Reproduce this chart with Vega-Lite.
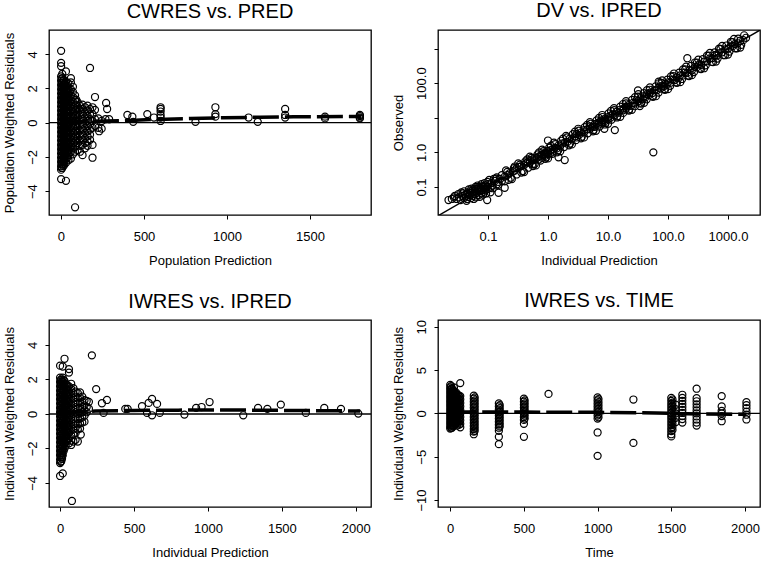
{
"$schema": "https://vega.github.io/schema/vega-lite/v6.json",
"background": "white",
"padding": {"left": 2, "top": 0, "right": 0, "bottom": 0},
"columns": 2,
"spacing": {"row": 22, "column": 18},
"config": {
  "font": "Liberation Sans",
  "view": {"stroke": "black", "strokeWidth": 1.3},
  "axis": {"domain": false, "grid": false, "tickColor": "black", "tickSize": 4, "tickWidth": 1,
    "labelFont": "Liberation Sans", "labelFontSize": 13, "labelColor": "black", "labelFlush": false, "labelOverlap": false,
    "titleFont": "Liberation Sans", "titleFontSize": 13, "titleFontWeight": "normal", "titleColor": "black"},
  "axisX": {"labelPadding": 11, "titlePadding": 11, "format": "d"},
  "axisY": {"labelAngle": -90, "labelAlign": "center", "labelBaseline": "bottom", "labelPadding": 6, "titlePadding": 10},
  "title": {"font": "Liberation Sans", "fontSize": 20, "fontWeight": "normal", "color": "black", "baseline": "alphabetic", "offset": 8.5}
},
"datasets": {
"cw": [
{"PRED":1,"CWRES":4.2},{"PRED":1,"CWRES":3.5},{"PRED":1,"CWRES":3.3},{"PRED":1,"CWRES":2.7},{"PRED":1,"CWRES":2.45},{"PRED":1,"CWRES":2.2},{"PRED":1,"CWRES":1.95},{"PRED":1,"CWRES":1.7},{"PRED":1,"CWRES":1.45},{"PRED":1,"CWRES":1.2},{"PRED":1,"CWRES":0.95},{"PRED":1,"CWRES":0.7},{"PRED":1,"CWRES":0.45},{"PRED":1,"CWRES":0.2},{"PRED":1,"CWRES":-0.05},{"PRED":1,"CWRES":-0.3},{"PRED":1,"CWRES":-0.55},{"PRED":1,"CWRES":-0.8},{"PRED":1,"CWRES":-1.05},{"PRED":1,"CWRES":-1.3},{"PRED":1,"CWRES":-1.55},{"PRED":1,"CWRES":-1.8},{"PRED":1,"CWRES":-2.05},{"PRED":1,"CWRES":-2.3},{"PRED":1,"CWRES":-2.55},{"PRED":1,"CWRES":-2.75},{"PRED":1,"CWRES":-3.3},
{"PRED":4,"CWRES":2.57},{"PRED":4,"CWRES":2.32},{"PRED":4,"CWRES":2.07},{"PRED":4,"CWRES":1.82},{"PRED":4,"CWRES":1.57},{"PRED":4,"CWRES":1.32},{"PRED":4,"CWRES":1.07},{"PRED":4,"CWRES":0.82},{"PRED":4,"CWRES":0.57},{"PRED":4,"CWRES":0.32},{"PRED":4,"CWRES":0.07},{"PRED":4,"CWRES":-0.18},{"PRED":4,"CWRES":-0.43},{"PRED":4,"CWRES":-0.68},{"PRED":4,"CWRES":-0.93},{"PRED":4,"CWRES":-1.18},{"PRED":4,"CWRES":-1.43},{"PRED":4,"CWRES":-1.68},{"PRED":4,"CWRES":-1.93},{"PRED":4,"CWRES":-2.18},{"PRED":4,"CWRES":-2.43},{"PRED":4,"CWRES":-2.65},
{"PRED":8,"CWRES":2.85},{"PRED":8,"CWRES":2.6},{"PRED":8,"CWRES":2.35},{"PRED":8,"CWRES":2.1},{"PRED":8,"CWRES":1.85},{"PRED":8,"CWRES":1.6},{"PRED":8,"CWRES":1.35},{"PRED":8,"CWRES":1.1},{"PRED":8,"CWRES":0.85},{"PRED":8,"CWRES":0.6},{"PRED":8,"CWRES":0.35},{"PRED":8,"CWRES":0.1},{"PRED":8,"CWRES":-0.15},{"PRED":8,"CWRES":-0.4},{"PRED":8,"CWRES":-0.65},{"PRED":8,"CWRES":-0.9},{"PRED":8,"CWRES":-1.15},{"PRED":8,"CWRES":-1.4},{"PRED":8,"CWRES":-1.65},{"PRED":8,"CWRES":-1.9},{"PRED":8,"CWRES":-2.15},{"PRED":8,"CWRES":-2.4},{"PRED":8,"CWRES":-2.65},
{"PRED":13,"CWRES":2.47},{"PRED":13,"CWRES":2.22},{"PRED":13,"CWRES":1.97},{"PRED":13,"CWRES":1.72},{"PRED":13,"CWRES":1.47},{"PRED":13,"CWRES":1.22},{"PRED":13,"CWRES":0.97},{"PRED":13,"CWRES":0.72},{"PRED":13,"CWRES":0.47},{"PRED":13,"CWRES":0.22},{"PRED":13,"CWRES":-0.03},{"PRED":13,"CWRES":-0.28},{"PRED":13,"CWRES":-0.53},{"PRED":13,"CWRES":-0.78},{"PRED":13,"CWRES":-1.03},{"PRED":13,"CWRES":-1.28},{"PRED":13,"CWRES":-1.53},{"PRED":13,"CWRES":-1.78},{"PRED":13,"CWRES":-2.03},{"PRED":13,"CWRES":-2.28},{"PRED":13,"CWRES":-2.53},
{"PRED":18,"CWRES":2.5},{"PRED":18,"CWRES":2.25},{"PRED":18,"CWRES":2.0},{"PRED":18,"CWRES":1.75},{"PRED":18,"CWRES":1.5},{"PRED":18,"CWRES":1.25},{"PRED":18,"CWRES":1.0},{"PRED":18,"CWRES":0.75},{"PRED":18,"CWRES":0.5},{"PRED":18,"CWRES":0.25},{"PRED":18,"CWRES":0.0},{"PRED":18,"CWRES":-0.25},{"PRED":18,"CWRES":-0.5},{"PRED":18,"CWRES":-0.75},{"PRED":18,"CWRES":-1.0},{"PRED":18,"CWRES":-1.25},{"PRED":18,"CWRES":-1.5},{"PRED":18,"CWRES":-1.75},{"PRED":18,"CWRES":-2.0},{"PRED":18,"CWRES":-2.25},{"PRED":18,"CWRES":-2.5},
{"PRED":24,"CWRES":2.27},{"PRED":24,"CWRES":2.02},{"PRED":24,"CWRES":1.77},{"PRED":24,"CWRES":1.52},{"PRED":24,"CWRES":1.27},{"PRED":24,"CWRES":1.02},{"PRED":24,"CWRES":0.77},{"PRED":24,"CWRES":0.52},{"PRED":24,"CWRES":0.27},{"PRED":24,"CWRES":0.02},{"PRED":24,"CWRES":-0.23},{"PRED":24,"CWRES":-0.48},{"PRED":24,"CWRES":-0.73},{"PRED":24,"CWRES":-0.98},{"PRED":24,"CWRES":-1.23},{"PRED":24,"CWRES":-1.48},{"PRED":24,"CWRES":-1.73},{"PRED":24,"CWRES":-1.98},{"PRED":24,"CWRES":-2.23},
{"PRED":30,"CWRES":3.0},{"PRED":30,"CWRES":2.4},{"PRED":30,"CWRES":2.15},{"PRED":30,"CWRES":1.9},{"PRED":30,"CWRES":1.65},{"PRED":30,"CWRES":1.4},{"PRED":30,"CWRES":1.15},{"PRED":30,"CWRES":0.9},{"PRED":30,"CWRES":0.65},{"PRED":30,"CWRES":0.4},{"PRED":30,"CWRES":0.15},{"PRED":30,"CWRES":-0.1},{"PRED":30,"CWRES":-0.35},{"PRED":30,"CWRES":-0.6},{"PRED":30,"CWRES":-0.85},{"PRED":30,"CWRES":-1.1},{"PRED":30,"CWRES":-1.35},{"PRED":30,"CWRES":-1.6},{"PRED":30,"CWRES":-1.85},{"PRED":30,"CWRES":-2.1},{"PRED":30,"CWRES":-2.35},{"PRED":30,"CWRES":-3.4},
{"PRED":38,"CWRES":2.15},{"PRED":38,"CWRES":1.85},{"PRED":38,"CWRES":1.55},{"PRED":38,"CWRES":1.25},{"PRED":38,"CWRES":0.95},{"PRED":38,"CWRES":0.65},{"PRED":38,"CWRES":0.35},{"PRED":38,"CWRES":0.05},{"PRED":38,"CWRES":-0.25},{"PRED":38,"CWRES":-0.55},{"PRED":38,"CWRES":-0.85},{"PRED":38,"CWRES":-1.15},{"PRED":38,"CWRES":-1.45},{"PRED":38,"CWRES":-1.75},{"PRED":38,"CWRES":-2.05},
{"PRED":45,"CWRES":2.3},{"PRED":45,"CWRES":2.0},{"PRED":45,"CWRES":1.7},{"PRED":45,"CWRES":1.4},{"PRED":45,"CWRES":1.1},{"PRED":45,"CWRES":0.8},{"PRED":45,"CWRES":0.5},{"PRED":45,"CWRES":0.2},{"PRED":45,"CWRES":-0.1},{"PRED":45,"CWRES":-0.4},{"PRED":45,"CWRES":-0.7},{"PRED":45,"CWRES":-1.0},{"PRED":45,"CWRES":-1.3},{"PRED":45,"CWRES":-1.6},{"PRED":45,"CWRES":-1.9},{"PRED":45,"CWRES":-2.2},
{"PRED":52,"CWRES":1.85},{"PRED":52,"CWRES":1.55},{"PRED":52,"CWRES":1.25},{"PRED":52,"CWRES":0.95},{"PRED":52,"CWRES":0.65},{"PRED":52,"CWRES":0.35},{"PRED":52,"CWRES":0.05},{"PRED":52,"CWRES":-0.25},{"PRED":52,"CWRES":-0.55},{"PRED":52,"CWRES":-0.85},{"PRED":52,"CWRES":-1.15},{"PRED":52,"CWRES":-1.45},{"PRED":52,"CWRES":-1.75},
{"PRED":60,"CWRES":2.6},{"PRED":60,"CWRES":2.35},{"PRED":60,"CWRES":1.95},{"PRED":60,"CWRES":1.6},{"PRED":60,"CWRES":1.3},{"PRED":60,"CWRES":1.0},{"PRED":60,"CWRES":0.7},{"PRED":60,"CWRES":0.4},{"PRED":60,"CWRES":0.1},{"PRED":60,"CWRES":-0.2},{"PRED":60,"CWRES":-0.5},{"PRED":60,"CWRES":-0.8},{"PRED":60,"CWRES":-1.1},{"PRED":60,"CWRES":-1.4},{"PRED":60,"CWRES":-1.7},{"PRED":60,"CWRES":-2.1},
{"PRED":72,"CWRES":2.1},{"PRED":72,"CWRES":1.8},{"PRED":72,"CWRES":1.5},{"PRED":72,"CWRES":1.2},{"PRED":72,"CWRES":0.9},{"PRED":72,"CWRES":0.6},{"PRED":72,"CWRES":0.3},{"PRED":72,"CWRES":0.0},{"PRED":72,"CWRES":-0.3},{"PRED":72,"CWRES":-0.6},{"PRED":72,"CWRES":-0.9},{"PRED":72,"CWRES":-1.2},{"PRED":72,"CWRES":-1.5},{"PRED":72,"CWRES":-1.85},
{"PRED":85,"CWRES":1.6},{"PRED":85,"CWRES":1.3},{"PRED":85,"CWRES":1.0},{"PRED":85,"CWRES":0.7},{"PRED":85,"CWRES":0.4},{"PRED":85,"CWRES":0.1},{"PRED":85,"CWRES":-0.2},{"PRED":85,"CWRES":-0.5},{"PRED":85,"CWRES":-0.8},{"PRED":85,"CWRES":-1.1},{"PRED":85,"CWRES":-1.4},{"PRED":85,"CWRES":-1.7},{"PRED":85,"CWRES":-4.95},
{"PRED":92,"CWRES":1.35},{"PRED":92,"CWRES":1.05},{"PRED":92,"CWRES":0.75},{"PRED":92,"CWRES":0.45},{"PRED":92,"CWRES":0.15},{"PRED":92,"CWRES":-0.15},{"PRED":92,"CWRES":-0.45},{"PRED":92,"CWRES":-0.75},{"PRED":92,"CWRES":-1.05},{"PRED":92,"CWRES":-1.35},
{"PRED":100,"CWRES":1.2},{"PRED":100,"CWRES":0.9},{"PRED":100,"CWRES":0.6},{"PRED":100,"CWRES":0.3},{"PRED":100,"CWRES":0.0},{"PRED":100,"CWRES":-0.3},{"PRED":100,"CWRES":-0.6},{"PRED":100,"CWRES":-0.9},{"PRED":100,"CWRES":-1.2},{"PRED":100,"CWRES":-1.6},
{"PRED":115,"CWRES":1.0},{"PRED":115,"CWRES":0.75},{"PRED":115,"CWRES":0.45},{"PRED":115,"CWRES":0.15},{"PRED":115,"CWRES":-0.15},{"PRED":115,"CWRES":-0.45},{"PRED":115,"CWRES":-0.75},{"PRED":115,"CWRES":-1.05},{"PRED":115,"CWRES":-1.35},{"PRED":115,"CWRES":-1.7},
{"PRED":130,"CWRES":1.05},{"PRED":130,"CWRES":0.8},{"PRED":130,"CWRES":0.5},{"PRED":130,"CWRES":0.2},{"PRED":130,"CWRES":-0.1},{"PRED":130,"CWRES":-0.4},{"PRED":130,"CWRES":-0.7},{"PRED":130,"CWRES":-1.0},{"PRED":130,"CWRES":-1.3},{"PRED":130,"CWRES":-1.9},
{"PRED":145,"CWRES":0.9},{"PRED":145,"CWRES":0.6},{"PRED":145,"CWRES":0.3},{"PRED":145,"CWRES":0.0},{"PRED":145,"CWRES":-0.3},{"PRED":145,"CWRES":-0.6},{"PRED":145,"CWRES":-0.9},{"PRED":145,"CWRES":-1.2},{"PRED":145,"CWRES":-1.5},
{"PRED":160,"CWRES":1.0},{"PRED":160,"CWRES":0.7},{"PRED":160,"CWRES":0.4},{"PRED":160,"CWRES":0.1},{"PRED":160,"CWRES":-0.2},{"PRED":160,"CWRES":-0.5},{"PRED":160,"CWRES":-0.8},{"PRED":160,"CWRES":-1.1},{"PRED":160,"CWRES":-1.35},
{"PRED":175,"CWRES":3.2},{"PRED":175,"CWRES":0.8},{"PRED":175,"CWRES":0.5},{"PRED":175,"CWRES":0.2},{"PRED":175,"CWRES":-0.1},{"PRED":175,"CWRES":-0.4},{"PRED":175,"CWRES":-0.7},{"PRED":175,"CWRES":-1.0},
{"PRED":190,"CWRES":0.9},{"PRED":190,"CWRES":0.5},{"PRED":190,"CWRES":0.1},{"PRED":190,"CWRES":-0.3},{"PRED":190,"CWRES":-1.3},{"PRED":190,"CWRES":-2.05},
{"PRED":205,"CWRES":1.5},{"PRED":205,"CWRES":0.75},{"PRED":205,"CWRES":0.2},{"PRED":205,"CWRES":-0.2},
{"PRED":225,"CWRES":0.25},{"PRED":225,"CWRES":-0.3},{"PRED":230,"CWRES":-0.5},{"PRED":245,"CWRES":0.1},{"PRED":245,"CWRES":-0.35},
{"PRED":272,"CWRES":1.15},{"PRED":278,"CWRES":0.8},{"PRED":268,"CWRES":0.2},{"PRED":290,"CWRES":0.2},
{"PRED":400,"CWRES":0.45},{"PRED":430,"CWRES":0.35},{"PRED":435,"CWRES":0.05},{"PRED":520,"CWRES":0.5},{"PRED":560,"CWRES":0.3},
{"PRED":600,"CWRES":0.9},{"PRED":600,"CWRES":0.8},{"PRED":600,"CWRES":0.65},{"PRED":600,"CWRES":0.45},{"PRED":600,"CWRES":0.3},{"PRED":600,"CWRES":0.1},
{"PRED":810,"CWRES":0.05},{"PRED":930,"CWRES":0.9},{"PRED":930,"CWRES":0.5},{"PRED":930,"CWRES":0.35},{"PRED":1130,"CWRES":0.3},{"PRED":1185,"CWRES":0.05},
{"PRED":1350,"CWRES":0.8},{"PRED":1350,"CWRES":0.45},{"PRED":1350,"CWRES":0.3},{"PRED":1590,"CWRES":0.25},{"PRED":1590,"CWRES":0.35},
{"PRED":1800,"CWRES":0.45},{"PRED":1800,"CWRES":0.38},{"PRED":1800,"CWRES":0.3},{"PRED":1800,"CWRES":0.25}
],
"cwl": [
{"PRED":0,"CWRES":0.03},{"PRED":180,"CWRES":0.08},{"PRED":370,"CWRES":0.11},{"PRED":540,"CWRES":0.18},{"PRED":780,"CWRES":0.24},{"PRED":980,"CWRES":0.29},{"PRED":1200,"CWRES":0.32},{"PRED":1400,"CWRES":0.34},{"PRED":1810,"CWRES":0.36}
],
"dv": [
{"IPRED":0.022,"DV":0.042},{"IPRED":0.025,"DV":0.045},{"IPRED":0.03,"DV":0.045},{"IPRED":0.033,"DV":0.05},{"IPRED":0.035,"DV":0.042},{"IPRED":0.038,"DV":0.055},{"IPRED":0.04,"DV":0.048},{"IPRED":0.042,"DV":0.06},{"IPRED":0.045,"DV":0.045},{"IPRED":0.047,"DV":0.052},{"IPRED":0.05,"DV":0.058},{"IPRED":0.05,"DV":0.066},{"IPRED":0.052,"DV":0.048},{"IPRED":0.055,"DV":0.07},{"IPRED":0.057,"DV":0.055},{"IPRED":0.06,"DV":0.062},{"IPRED":0.06,"DV":0.078},{"IPRED":0.063,"DV":0.05},{"IPRED":0.065,"DV":0.068},{"IPRED":0.068,"DV":0.085},{"IPRED":0.07,"DV":0.058},{"IPRED":0.072,"DV":0.075},{"IPRED":0.075,"DV":0.095},{"IPRED":0.078,"DV":0.066},{"IPRED":0.08,"DV":0.082},{"IPRED":0.082,"DV":0.105},{"IPRED":0.085,"DV":0.072},{"IPRED":0.088,"DV":0.09},{"IPRED":0.09,"DV":0.11},{"IPRED":0.092,"DV":0.08},{"IPRED":0.095,"DV":0.1},{"IPRED":0.097,"DV":0.042},{"IPRED":0.1,"DV":0.088},{"IPRED":0.1,"DV":0.12},{"IPRED":0.105,"DV":0.16},{"IPRED":0.11,"DV":0.095},{"IPRED":0.115,"DV":0.13},{"IPRED":0.12,"DV":0.11},{"IPRED":0.13,"DV":0.15},{"IPRED":0.14,"DV":0.12},{"IPRED":0.14,"DV":0.19},{"IPRED":0.15,"DV":0.068},{"IPRED":0.15,"DV":0.14},{"IPRED":0.16,"DV":0.17},{"IPRED":0.17,"DV":0.15},{"IPRED":0.19,"DV":0.095},{"IPRED":0.19,"DV":0.2},{"IPRED":0.21,"DV":0.22},{"IPRED":0.23,"DV":0.25},{"IPRED":0.26,"DV":0.28},{"IPRED":0.28,"DV":0.3},{"IPRED":0.3,"DV":0.35},{"IPRED":0.33,"DV":0.38},{"IPRED":0.36,"DV":0.4},{"IPRED":0.4,"DV":0.43},{"IPRED":0.43,"DV":0.48},{"IPRED":0.46,"DV":0.52},{"IPRED":0.5,"DV":0.5},{"IPRED":0.5,"DV":0.58},{"IPRED":0.55,"DV":0.45},{"IPRED":0.55,"DV":0.62},{"IPRED":0.6,"DV":0.6},{"IPRED":0.6,"DV":0.7},{"IPRED":0.65,"DV":0.68},{"IPRED":0.7,"DV":0.75},{"IPRED":0.7,"DV":0.62},{"IPRED":0.75,"DV":0.8},{"IPRED":0.8,"DV":0.85},{"IPRED":0.8,"DV":0.7},{"IPRED":0.85,"DV":0.9},{"IPRED":0.9,"DV":1.0},{"IPRED":0.9,"DV":0.8},{"IPRED":0.95,"DV":0.95},{"IPRED":1.0,"DV":1.1},{"IPRED":1.0,"DV":0.9},{"IPRED":1.0,"DV":2.2},{"IPRED":1.1,"DV":1.15},{"IPRED":1.1,"DV":0.95},{"IPRED":1.2,"DV":1.25},{"IPRED":1.2,"DV":1.05},{"IPRED":1.3,"DV":1.35},{"IPRED":1.4,"DV":1.3},{"IPRED":1.5,"DV":1.6},{"IPRED":1.5,"DV":0.72},{"IPRED":1.6,"DV":1.5},{"IPRED":1.7,"DV":1.8},{"IPRED":1.9,"DV":0.6},{"IPRED":1.9,"DV":1.9},{"IPRED":2.1,"DV":2.0},{"IPRED":2.3,"DV":2.5},{"IPRED":2.5,"DV":2.4},{"IPRED":2.8,"DV":2.9},{"IPRED":3.0,"DV":2.7},{"IPRED":3.0,"DV":3.4},{"IPRED":3.3,"DV":3.2},{"IPRED":3.6,"DV":3.8},{"IPRED":4.0,"DV":3.8},{"IPRED":4.0,"DV":4.4},{"IPRED":4.5,"DV":4.6},{"IPRED":5,"DV":4.8},{"IPRED":5,"DV":5.6},{"IPRED":5.5,"DV":5.5},{"IPRED":6,"DV":6.5},{"IPRED":6,"DV":5.5},{"IPRED":6.5,"DV":6.8},{"IPRED":7,"DV":7.3},{"IPRED":7,"DV":6.4},{"IPRED":7.5,"DV":7.8},{"IPRED":8,"DV":8.5},{"IPRED":8,"DV":7.2},{"IPRED":8.7,"DV":4.8},{"IPRED":9,"DV":9.5},{"IPRED":9,"DV":8.2},{"IPRED":10,"DV":10.5},{"IPRED":10,"DV":9},{"IPRED":11,"DV":11.5},{"IPRED":11,"DV":10},{"IPRED":12,"DV":12.5},{"IPRED":13,"DV":4.4},{"IPRED":13,"DV":12},{"IPRED":14,"DV":15},{"IPRED":15,"DV":14},{"IPRED":16,"DV":17},{"IPRED":18,"DV":18.5},{"IPRED":18,"DV":16.5},{"IPRED":20,"DV":21},{"IPRED":20,"DV":18.5},{"IPRED":22,"DV":23},{"IPRED":24,"DV":22},{"IPRED":26,"DV":27},{"IPRED":28,"DV":26},{"IPRED":30,"DV":32},{"IPRED":32,"DV":30},{"IPRED":31.6,"DV":62},{"IPRED":34,"DV":21.8},{"IPRED":35,"DV":37},{"IPRED":38,"DV":35},{"IPRED":40,"DV":42},{"IPRED":42,"DV":39},{"IPRED":45,"DV":48},{"IPRED":48,"DV":45},{"IPRED":50,"DV":53},{"IPRED":55,"DV":52},{"IPRED":57,"DV":1.0},{"IPRED":60,"DV":63},{"IPRED":65,"DV":62},{"IPRED":70,"DV":74},{"IPRED":70,"DV":110},{"IPRED":75,"DV":70},{"IPRED":80,"DV":84},{"IPRED":85,"DV":80},{"IPRED":90,"DV":95},{"IPRED":95,"DV":90},{"IPRED":100,"DV":105},{"IPRED":110,"DV":103},{"IPRED":120,"DV":127},{"IPRED":130,"DV":122},{"IPRED":140,"DV":148},{"IPRED":150,"DV":140},{"IPRED":160,"DV":168},{"IPRED":175,"DV":165},{"IPRED":190,"DV":200},{"IPRED":210,"DV":525},{"IPRED":210,"DV":198},{"IPRED":230,"DV":242},{"IPRED":250,"DV":235},{"IPRED":280,"DV":295},{"IPRED":300,"DV":285},{"IPRED":330,"DV":350},{"IPRED":360,"DV":340},{"IPRED":400,"DV":420},{"IPRED":450,"DV":430},{"IPRED":500,"DV":520},{"IPRED":550,"DV":530},{"IPRED":600,"DV":640},{"IPRED":650,"DV":620},{"IPRED":700,"DV":730},{"IPRED":800,"DV":780},{"IPRED":900,"DV":950},{"IPRED":1000,"DV":980},{"IPRED":1100,"DV":1150},{"IPRED":1200,"DV":1170},{"IPRED":1300,"DV":1350},{"IPRED":1450,"DV":1420},{"IPRED":1600,"DV":1680},{"IPRED":1800,"DV":1750},{"IPRED":2000,"DV":2050},
{"IPRED":0.12,"DV":0.092},{"IPRED":0.135,"DV":0.175},{"IPRED":0.15,"DV":0.116},{"IPRED":0.17,"DV":0.22},{"IPRED":0.19,"DV":0.146},{"IPRED":0.21,"DV":0.273},{"IPRED":0.24,"DV":0.185},{"IPRED":0.27,"DV":0.35},{"IPRED":0.3,"DV":0.23},{"IPRED":0.34,"DV":0.44},{"IPRED":0.38,"DV":0.29},{"IPRED":0.42,"DV":0.55},{"IPRED":0.47,"DV":0.36},{"IPRED":0.53,"DV":0.69},{"IPRED":0.6,"DV":0.46},{"IPRED":0.67,"DV":0.87},{"IPRED":0.75,"DV":0.58},{"IPRED":0.84,"DV":1.09},{"IPRED":0.94,"DV":0.72},{"IPRED":1.05,"DV":1.37},{"IPRED":1.18,"DV":0.91},{"IPRED":1.32,"DV":1.72},{"IPRED":1.48,"DV":1.14},{"IPRED":1.66,"DV":2.16},{"IPRED":1.86,"DV":1.43},{"IPRED":2.08,"DV":2.7},{"IPRED":2.33,"DV":1.79},{"IPRED":2.6,"DV":3.38},{"IPRED":2.92,"DV":2.25},{"IPRED":3.27,"DV":4.25},{"IPRED":3.66,"DV":2.82},{"IPRED":4.1,"DV":5.33},{"IPRED":4.6,"DV":3.54},{"IPRED":5.15,"DV":6.7},{"IPRED":5.77,"DV":4.44},{"IPRED":6.46,"DV":8.4},{"IPRED":7.23,"DV":5.57},{"IPRED":8.1,"DV":10.5},{"IPRED":9.07,"DV":6.98},{"IPRED":10.2,"DV":13.3},{"IPRED":11.4,"DV":8.78},{"IPRED":12.7,"DV":16.5},{"IPRED":14.3,"DV":11},{"IPRED":16,"DV":20.8},{"IPRED":17.9,"DV":13.8},{"IPRED":20,"DV":26},{"IPRED":22.4,"DV":17.2},{"IPRED":25.1,"DV":32.6},{"IPRED":28.1,"DV":21.6},{"IPRED":31.5,"DV":41},{"IPRED":35.3,"DV":27.2},{"IPRED":39.5,"DV":51.4},{"IPRED":44.2,"DV":34},{"IPRED":49.5,"DV":64.4},{"IPRED":55.5,"DV":42.7},{"IPRED":62.1,"DV":80.7},{"IPRED":69.6,"DV":53.6},{"IPRED":77.9,"DV":101},{"IPRED":87.3,"DV":67.2},{"IPRED":97.7,"DV":127},{"IPRED":109,"DV":83.9},{"IPRED":122,"DV":159},{"IPRED":137,"DV":105},{"IPRED":154,"DV":200},{"IPRED":172,"DV":132},{"IPRED":193,"DV":251},{"IPRED":216,"DV":166},{"IPRED":242,"DV":315},{"IPRED":271,"DV":209},{"IPRED":303,"DV":394},{"IPRED":340,"DV":262},{"IPRED":380,"DV":494},{"IPRED":426,"DV":328},{"IPRED":477,"DV":620},{"IPRED":534,"DV":411},{"IPRED":598,"DV":777},{"IPRED":670,"DV":516},{"IPRED":750,"DV":975},{"IPRED":840,"DV":647},{"IPRED":941,"DV":1223},{"IPRED":1054,"DV":812},{"IPRED":1180,"DV":1534},{"IPRED":1322,"DV":1018},{"IPRED":1480,"DV":1924},{"IPRED":1658,"DV":1277},{"IPRED":1857,"DV":2414},
{"IPRED":0.028,"DV":0.055},{"IPRED":0.032,"DV":0.062},{"IPRED":0.036,"DV":0.07},{"IPRED":0.04,"DV":0.075},{"IPRED":0.044,"DV":0.04},{"IPRED":0.048,"DV":0.085},{"IPRED":0.053,"DV":0.09},{"IPRED":0.058,"DV":0.045},{"IPRED":0.062,"DV":0.1},{"IPRED":0.067,"DV":0.11},{"IPRED":0.073,"DV":0.052},{"IPRED":0.078,"DV":0.12},{"IPRED":0.083,"DV":0.06},{"IPRED":0.088,"DV":0.13},{"IPRED":0.093,"DV":0.065},{"IPRED":0.098,"DV":0.14},{"IPRED":0.11,"DV":0.07},{"IPRED":0.125,"DV":0.17},{"IPRED":0.045,"DV":0.065},{"IPRED":0.055,"DV":0.08},{"IPRED":0.065,"DV":0.09},{"IPRED":0.075,"DV":0.085},{"IPRED":0.085,"DV":0.1},{"IPRED":0.038,"DV":0.065},{"IPRED":0.027,"DV":0.05},{"IPRED":0.07,"DV":0.1},{"IPRED":0.06,"DV":0.09},{"IPRED":0.05,"DV":0.075},
{"IPRED":0.2,"DV":0.3},{"IPRED":0.25,"DV":0.17},{"IPRED":0.32,"DV":0.48},{"IPRED":0.4,"DV":0.27},{"IPRED":0.5,"DV":0.75},{"IPRED":0.63,"DV":0.42},{"IPRED":0.8,"DV":1.2},{"IPRED":1.0,"DV":0.67},{"IPRED":1.26,"DV":1.9},{"IPRED":1.6,"DV":1.07},{"IPRED":2.0,"DV":3.0},{"IPRED":2.5,"DV":1.7},{"IPRED":3.2,"DV":4.8},{"IPRED":4.0,"DV":2.7},{"IPRED":5.0,"DV":7.5},{"IPRED":6.3,"DV":4.2},{"IPRED":8.0,"DV":12},{"IPRED":10,"DV":6.7},{"IPRED":12.6,"DV":19},{"IPRED":16,"DV":10.7},{"IPRED":20,"DV":30},{"IPRED":25,"DV":17},{"IPRED":32,"DV":48},{"IPRED":40,"DV":27},{"IPRED":50,"DV":75},{"IPRED":63,"DV":42},{"IPRED":80,"DV":120},{"IPRED":100,"DV":67},{"IPRED":126,"DV":190},{"IPRED":160,"DV":107},{"IPRED":200,"DV":300},{"IPRED":250,"DV":170},{"IPRED":320,"DV":480},{"IPRED":400,"DV":270},{"IPRED":500,"DV":750},{"IPRED":630,"DV":420},{"IPRED":800,"DV":1200},{"IPRED":1000,"DV":670},{"IPRED":1260,"DV":1900},{"IPRED":1600,"DV":1070},
{"IPRED":0.22,"DV":0.16},{"IPRED":0.28,"DV":0.39},{"IPRED":0.36,"DV":0.26},{"IPRED":0.45,"DV":0.63},{"IPRED":0.56,"DV":0.4},{"IPRED":0.71,"DV":1.0},{"IPRED":0.9,"DV":0.65},{"IPRED":1.12,"DV":1.57},{"IPRED":1.41,"DV":1.0},{"IPRED":1.78,"DV":2.5},{"IPRED":2.24,"DV":1.6},{"IPRED":2.82,"DV":3.95},{"IPRED":3.55,"DV":2.55},{"IPRED":4.47,"DV":6.25},{"IPRED":5.62,"DV":4.05},{"IPRED":7.08,"DV":9.9},{"IPRED":8.91,"DV":6.4},{"IPRED":11.2,"DV":15.7},{"IPRED":14.1,"DV":10.2},{"IPRED":17.8,"DV":24.9},{"IPRED":22.4,"DV":16.1},{"IPRED":28.2,"DV":39.5},{"IPRED":35.5,"DV":25.6},{"IPRED":44.7,"DV":62.6},{"IPRED":56.2,"DV":40.5},{"IPRED":70.8,"DV":99},{"IPRED":89.1,"DV":64.2},{"IPRED":112,"DV":157},{"IPRED":141,"DV":102},{"IPRED":178,"DV":249},{"IPRED":224,"DV":161},{"IPRED":282,"DV":395},{"IPRED":355,"DV":256},{"IPRED":447,"DV":626},{"IPRED":562,"DV":405},{"IPRED":708,"DV":991},{"IPRED":891,"DV":642},{"IPRED":1120,"DV":1570},{"IPRED":1410,"DV":1015}
],
"dvl": [{"IPRED":0.001,"DV":0.001},{"IPRED":10000,"DV":10000}],
"iw": [
{"IPRED":0,"IWRES":2.8},{"IPRED":0,"IWRES":2.1},{"IPRED":0,"IWRES":1.85},{"IPRED":0,"IWRES":1.6},{"IPRED":0,"IWRES":1.35},{"IPRED":0,"IWRES":1.1},{"IPRED":0,"IWRES":0.85},{"IPRED":0,"IWRES":0.6},{"IPRED":0,"IWRES":0.35},{"IPRED":0,"IWRES":0.1},{"IPRED":0,"IWRES":-0.15},{"IPRED":0,"IWRES":-0.4},{"IPRED":0,"IWRES":-0.65},{"IPRED":0,"IWRES":-0.9},{"IPRED":0,"IWRES":-1.15},{"IPRED":0,"IWRES":-1.4},{"IPRED":0,"IWRES":-1.65},{"IPRED":0,"IWRES":-1.9},{"IPRED":0,"IWRES":-2.15},{"IPRED":0,"IWRES":-2.4},{"IPRED":0,"IWRES":-2.65},{"IPRED":0,"IWRES":-2.85},{"IPRED":0,"IWRES":-3.6},
{"IPRED":4,"IWRES":1.97},{"IPRED":4,"IWRES":1.72},{"IPRED":4,"IWRES":1.47},{"IPRED":4,"IWRES":1.22},{"IPRED":4,"IWRES":0.97},{"IPRED":4,"IWRES":0.72},{"IPRED":4,"IWRES":0.47},{"IPRED":4,"IWRES":0.22},{"IPRED":4,"IWRES":-0.03},{"IPRED":4,"IWRES":-0.28},{"IPRED":4,"IWRES":-0.53},{"IPRED":4,"IWRES":-0.78},{"IPRED":4,"IWRES":-1.03},{"IPRED":4,"IWRES":-1.28},{"IPRED":4,"IWRES":-1.53},{"IPRED":4,"IWRES":-1.78},{"IPRED":4,"IWRES":-2.03},{"IPRED":4,"IWRES":-2.28},{"IPRED":4,"IWRES":-2.53},{"IPRED":4,"IWRES":-2.78},
{"IPRED":8,"IWRES":2.0},{"IPRED":8,"IWRES":1.75},{"IPRED":8,"IWRES":1.5},{"IPRED":8,"IWRES":1.25},{"IPRED":8,"IWRES":1.0},{"IPRED":8,"IWRES":0.75},{"IPRED":8,"IWRES":0.5},{"IPRED":8,"IWRES":0.25},{"IPRED":8,"IWRES":0.0},{"IPRED":8,"IWRES":-0.25},{"IPRED":8,"IWRES":-0.5},{"IPRED":8,"IWRES":-0.75},{"IPRED":8,"IWRES":-1.0},{"IPRED":8,"IWRES":-1.25},{"IPRED":8,"IWRES":-1.5},{"IPRED":8,"IWRES":-1.75},{"IPRED":8,"IWRES":-2.0},{"IPRED":8,"IWRES":-2.25},{"IPRED":8,"IWRES":-2.5},{"IPRED":8,"IWRES":-2.75},
{"IPRED":13,"IWRES":1.9},{"IPRED":13,"IWRES":1.62},{"IPRED":13,"IWRES":1.37},{"IPRED":13,"IWRES":1.12},{"IPRED":13,"IWRES":0.87},{"IPRED":13,"IWRES":0.62},{"IPRED":13,"IWRES":0.37},{"IPRED":13,"IWRES":0.12},{"IPRED":13,"IWRES":-0.13},{"IPRED":13,"IWRES":-0.38},{"IPRED":13,"IWRES":-0.63},{"IPRED":13,"IWRES":-0.88},{"IPRED":13,"IWRES":-1.13},{"IPRED":13,"IWRES":-1.38},{"IPRED":13,"IWRES":-1.63},{"IPRED":13,"IWRES":-1.88},{"IPRED":13,"IWRES":-2.13},{"IPRED":13,"IWRES":-2.38},{"IPRED":13,"IWRES":-2.6},
{"IPRED":18,"IWRES":2.75},{"IPRED":18,"IWRES":2.1},{"IPRED":18,"IWRES":1.85},{"IPRED":18,"IWRES":1.6},{"IPRED":18,"IWRES":1.35},{"IPRED":18,"IWRES":1.1},{"IPRED":18,"IWRES":0.85},{"IPRED":18,"IWRES":0.6},{"IPRED":18,"IWRES":0.35},{"IPRED":18,"IWRES":0.1},{"IPRED":18,"IWRES":-0.15},{"IPRED":18,"IWRES":-0.4},{"IPRED":18,"IWRES":-0.65},{"IPRED":18,"IWRES":-0.9},{"IPRED":18,"IWRES":-1.15},{"IPRED":18,"IWRES":-1.4},{"IPRED":18,"IWRES":-1.65},{"IPRED":18,"IWRES":-1.9},{"IPRED":18,"IWRES":-2.15},{"IPRED":18,"IWRES":-2.4},{"IPRED":18,"IWRES":-3.45},
{"IPRED":24,"IWRES":1.97},{"IPRED":24,"IWRES":1.72},{"IPRED":24,"IWRES":1.45},{"IPRED":24,"IWRES":1.15},{"IPRED":24,"IWRES":0.85},{"IPRED":24,"IWRES":0.55},{"IPRED":24,"IWRES":0.25},{"IPRED":24,"IWRES":-0.05},{"IPRED":24,"IWRES":-0.35},{"IPRED":24,"IWRES":-0.65},{"IPRED":24,"IWRES":-0.95},{"IPRED":24,"IWRES":-1.25},{"IPRED":24,"IWRES":-1.55},{"IPRED":24,"IWRES":-1.85},{"IPRED":24,"IWRES":-2.15},
{"IPRED":30,"IWRES":3.2},{"IPRED":30,"IWRES":1.9},{"IPRED":30,"IWRES":1.6},{"IPRED":30,"IWRES":1.3},{"IPRED":30,"IWRES":1.0},{"IPRED":30,"IWRES":0.7},{"IPRED":30,"IWRES":0.4},{"IPRED":30,"IWRES":0.1},{"IPRED":30,"IWRES":-0.2},{"IPRED":30,"IWRES":-0.5},{"IPRED":30,"IWRES":-0.8},{"IPRED":30,"IWRES":-1.1},{"IPRED":30,"IWRES":-1.4},{"IPRED":30,"IWRES":-1.7},{"IPRED":30,"IWRES":-2.0},
{"IPRED":38,"IWRES":1.75},{"IPRED":38,"IWRES":1.45},{"IPRED":38,"IWRES":1.15},{"IPRED":38,"IWRES":0.85},{"IPRED":38,"IWRES":0.55},{"IPRED":38,"IWRES":0.25},{"IPRED":38,"IWRES":-0.05},{"IPRED":38,"IWRES":-0.35},{"IPRED":38,"IWRES":-0.65},{"IPRED":38,"IWRES":-0.95},{"IPRED":38,"IWRES":-1.25},{"IPRED":38,"IWRES":-1.55},{"IPRED":38,"IWRES":-1.85},
{"IPRED":45,"IWRES":1.7},{"IPRED":45,"IWRES":1.4},{"IPRED":45,"IWRES":1.1},{"IPRED":45,"IWRES":0.8},{"IPRED":45,"IWRES":0.5},{"IPRED":45,"IWRES":0.2},{"IPRED":45,"IWRES":-0.1},{"IPRED":45,"IWRES":-0.4},{"IPRED":45,"IWRES":-0.7},{"IPRED":45,"IWRES":-1.0},{"IPRED":45,"IWRES":-1.3},{"IPRED":45,"IWRES":-1.6},
{"IPRED":52,"IWRES":1.55},{"IPRED":52,"IWRES":1.25},{"IPRED":52,"IWRES":0.95},{"IPRED":52,"IWRES":0.65},{"IPRED":52,"IWRES":0.35},{"IPRED":52,"IWRES":0.05},{"IPRED":52,"IWRES":-0.25},{"IPRED":52,"IWRES":-0.55},{"IPRED":52,"IWRES":-0.85},{"IPRED":52,"IWRES":-1.15},{"IPRED":52,"IWRES":-1.45},
{"IPRED":60,"IWRES":2.6},{"IPRED":60,"IWRES":2.4},{"IPRED":60,"IWRES":1.6},{"IPRED":60,"IWRES":1.3},{"IPRED":60,"IWRES":1.0},{"IPRED":60,"IWRES":0.7},{"IPRED":60,"IWRES":0.4},{"IPRED":60,"IWRES":0.1},{"IPRED":60,"IWRES":-0.2},{"IPRED":60,"IWRES":-0.5},{"IPRED":60,"IWRES":-0.8},{"IPRED":60,"IWRES":-1.1},{"IPRED":60,"IWRES":-1.4},{"IPRED":60,"IWRES":-1.7},
{"IPRED":75,"IWRES":1.75},{"IPRED":75,"IWRES":1.45},{"IPRED":75,"IWRES":1.15},{"IPRED":75,"IWRES":0.85},{"IPRED":75,"IWRES":0.55},{"IPRED":75,"IWRES":0.25},{"IPRED":75,"IWRES":-0.05},{"IPRED":75,"IWRES":-0.35},{"IPRED":75,"IWRES":-0.65},{"IPRED":75,"IWRES":-0.95},{"IPRED":75,"IWRES":-1.25},{"IPRED":75,"IWRES":-1.55},{"IPRED":75,"IWRES":-1.8},{"IPRED":80,"IWRES":-5.05},
{"IPRED":90,"IWRES":1.5},{"IPRED":90,"IWRES":1.2},{"IPRED":90,"IWRES":0.9},{"IPRED":90,"IWRES":0.6},{"IPRED":90,"IWRES":0.3},{"IPRED":90,"IWRES":0.0},{"IPRED":90,"IWRES":-0.3},{"IPRED":90,"IWRES":-0.6},{"IPRED":90,"IWRES":-0.9},{"IPRED":90,"IWRES":-1.2},{"IPRED":90,"IWRES":-1.6},
{"IPRED":105,"IWRES":1.3},{"IPRED":105,"IWRES":1.0},{"IPRED":105,"IWRES":0.7},{"IPRED":105,"IWRES":0.4},{"IPRED":105,"IWRES":0.1},{"IPRED":105,"IWRES":-0.2},{"IPRED":105,"IWRES":-0.5},{"IPRED":105,"IWRES":-0.8},{"IPRED":105,"IWRES":-1.1},{"IPRED":105,"IWRES":-1.5},
{"IPRED":120,"IWRES":1.2},{"IPRED":120,"IWRES":0.9},{"IPRED":120,"IWRES":0.6},{"IPRED":120,"IWRES":0.3},{"IPRED":120,"IWRES":0.0},{"IPRED":120,"IWRES":-0.3},{"IPRED":120,"IWRES":-0.6},{"IPRED":120,"IWRES":-0.9},{"IPRED":120,"IWRES":-1.6},
{"IPRED":135,"IWRES":1.25},{"IPRED":135,"IWRES":0.95},{"IPRED":135,"IWRES":0.65},{"IPRED":135,"IWRES":0.35},{"IPRED":135,"IWRES":0.05},{"IPRED":135,"IWRES":-0.25},{"IPRED":135,"IWRES":-0.55},{"IPRED":135,"IWRES":-0.85},{"IPRED":140,"IWRES":-1.2},
{"IPRED":150,"IWRES":1.0},{"IPRED":150,"IWRES":0.7},{"IPRED":150,"IWRES":0.4},{"IPRED":150,"IWRES":0.1},{"IPRED":150,"IWRES":-0.2},{"IPRED":150,"IWRES":-0.5},
{"IPRED":165,"IWRES":0.8},{"IPRED":165,"IWRES":0.5},{"IPRED":165,"IWRES":0.2},{"IPRED":165,"IWRES":-0.1},{"IPRED":165,"IWRES":-0.45},
{"IPRED":180,"IWRES":0.75},{"IPRED":180,"IWRES":0.4},{"IPRED":180,"IWRES":0.1},{"IPRED":195,"IWRES":0.7},{"IPRED":195,"IWRES":0.3},
{"IPRED":215,"IWRES":3.4},{"IPRED":244,"IWRES":1.44},{"IPRED":283,"IWRES":0.62},{"IPRED":317,"IWRES":0.81},{"IPRED":294,"IWRES":0.06},
{"IPRED":441,"IWRES":0.29},{"IPRED":457,"IWRES":0.29},{"IPRED":554,"IWRES":0.45},{"IPRED":599,"IWRES":0.64},{"IPRED":622,"IWRES":0.87},{"IPRED":622,"IWRES":-0.08},{"IPRED":656,"IWRES":0.58},{"IPRED":674,"IWRES":0.06},{"IPRED":588,"IWRES":0.06},
{"IPRED":841,"IWRES":-0.04},{"IPRED":920,"IWRES":0.35},{"IPRED":957,"IWRES":0.4},{"IPRED":1011,"IWRES":0.69},{"IPRED":1239,"IWRES":-0.08},{"IPRED":1339,"IWRES":0.35},{"IPRED":1402,"IWRES":0.29},{"IPRED":1493,"IWRES":0.54},{"IPRED":1662,"IWRES":0.06},{"IPRED":1787,"IWRES":0.35},{"IPRED":1900,"IWRES":0.29},{"IPRED":2017,"IWRES":0.02}
],
"iwl": [
{"IPRED":0,"IWRES":0.05},{"IPRED":240,"IWRES":0.17},{"IPRED":500,"IWRES":0.2},{"IPRED":800,"IWRES":0.22},{"IPRED":1000,"IWRES":0.23},{"IPRED":1300,"IWRES":0.22},{"IPRED":1600,"IWRES":0.2},{"IPRED":2030,"IWRES":0.17}
],
"tm": [
{"TIME":0,"IWRES":3.3},{"TIME":0,"IWRES":3.0},{"TIME":0,"IWRES":2.7},{"TIME":0,"IWRES":2.4},{"TIME":0,"IWRES":2.1},{"TIME":0,"IWRES":1.8},{"TIME":0,"IWRES":1.5},{"TIME":0,"IWRES":1.2},{"TIME":0,"IWRES":0.9},{"TIME":0,"IWRES":0.6},{"TIME":0,"IWRES":0.3},{"TIME":0,"IWRES":0.0},{"TIME":0,"IWRES":-0.3},{"TIME":0,"IWRES":-0.6},{"TIME":0,"IWRES":-0.9},{"TIME":0,"IWRES":-1.2},{"TIME":0,"IWRES":-1.5},{"TIME":0,"IWRES":-1.75},
{"TIME":6,"IWRES":3.15},{"TIME":6,"IWRES":2.85},{"TIME":6,"IWRES":2.55},{"TIME":6,"IWRES":2.25},{"TIME":6,"IWRES":1.95},{"TIME":6,"IWRES":1.65},{"TIME":6,"IWRES":1.35},{"TIME":6,"IWRES":1.05},{"TIME":6,"IWRES":0.75},{"TIME":6,"IWRES":0.45},{"TIME":6,"IWRES":0.15},{"TIME":6,"IWRES":-0.15},{"TIME":6,"IWRES":-0.45},{"TIME":6,"IWRES":-0.75},{"TIME":6,"IWRES":-1.05},{"TIME":6,"IWRES":-1.35},{"TIME":6,"IWRES":-1.65},
{"TIME":12,"IWRES":2.85},{"TIME":12,"IWRES":2.55},{"TIME":12,"IWRES":2.25},{"TIME":12,"IWRES":1.95},{"TIME":12,"IWRES":1.65},{"TIME":12,"IWRES":1.35},{"TIME":12,"IWRES":1.05},{"TIME":12,"IWRES":0.75},{"TIME":12,"IWRES":0.45},{"TIME":12,"IWRES":0.15},{"TIME":12,"IWRES":-0.15},{"TIME":12,"IWRES":-0.45},{"TIME":12,"IWRES":-0.75},{"TIME":12,"IWRES":-1.05},{"TIME":12,"IWRES":-1.35},{"TIME":12,"IWRES":-1.65},
{"TIME":18,"IWRES":2.7},{"TIME":18,"IWRES":2.4},{"TIME":18,"IWRES":2.1},{"TIME":18,"IWRES":1.8},{"TIME":18,"IWRES":1.5},{"TIME":18,"IWRES":1.2},{"TIME":18,"IWRES":0.9},{"TIME":18,"IWRES":0.6},{"TIME":18,"IWRES":0.3},{"TIME":18,"IWRES":0.0},{"TIME":18,"IWRES":-0.3},{"TIME":18,"IWRES":-0.6},{"TIME":18,"IWRES":-0.9},{"TIME":18,"IWRES":-1.2},{"TIME":18,"IWRES":-1.5},
{"TIME":25,"IWRES":3.0},{"TIME":25,"IWRES":2.6},{"TIME":25,"IWRES":2.2},{"TIME":25,"IWRES":1.8},{"TIME":25,"IWRES":1.4},{"TIME":25,"IWRES":1.0},{"TIME":25,"IWRES":0.6},{"TIME":25,"IWRES":0.2},{"TIME":25,"IWRES":-0.2},{"TIME":25,"IWRES":-0.6},{"TIME":25,"IWRES":-1.0},{"TIME":25,"IWRES":-1.4},
{"TIME":32,"IWRES":2.4},{"TIME":32,"IWRES":2.0},{"TIME":32,"IWRES":1.6},{"TIME":32,"IWRES":1.2},{"TIME":32,"IWRES":0.8},{"TIME":32,"IWRES":0.4},{"TIME":32,"IWRES":0.0},{"TIME":32,"IWRES":-0.4},{"TIME":32,"IWRES":-0.8},{"TIME":32,"IWRES":-1.2},
{"TIME":40,"IWRES":2.4},{"TIME":40,"IWRES":2.0},{"TIME":40,"IWRES":1.6},{"TIME":40,"IWRES":1.2},{"TIME":40,"IWRES":0.8},{"TIME":40,"IWRES":0.4},{"TIME":40,"IWRES":0.0},{"TIME":40,"IWRES":-0.4},{"TIME":40,"IWRES":-0.8},{"TIME":40,"IWRES":-1.2},
{"TIME":48,"IWRES":2.2},{"TIME":48,"IWRES":1.8},{"TIME":48,"IWRES":1.4},{"TIME":48,"IWRES":1.0},{"TIME":48,"IWRES":0.6},{"TIME":48,"IWRES":0.2},{"TIME":48,"IWRES":-0.2},{"TIME":48,"IWRES":-0.6},{"TIME":48,"IWRES":-1.0},{"TIME":48,"IWRES":-1.4},
{"TIME":55,"IWRES":2.1},{"TIME":55,"IWRES":1.7},{"TIME":55,"IWRES":1.3},{"TIME":55,"IWRES":0.9},{"TIME":55,"IWRES":0.5},{"TIME":55,"IWRES":0.1},{"TIME":55,"IWRES":-0.3},{"TIME":55,"IWRES":-0.7},{"TIME":55,"IWRES":-1.1},
{"TIME":62,"IWRES":1.9},{"TIME":62,"IWRES":1.5},{"TIME":62,"IWRES":1.1},{"TIME":62,"IWRES":0.7},{"TIME":62,"IWRES":0.3},{"TIME":62,"IWRES":-0.1},{"TIME":62,"IWRES":-0.5},{"TIME":62,"IWRES":-0.9},{"TIME":62,"IWRES":-1.3},
{"TIME":68,"IWRES":3.5},{"TIME":68,"IWRES":2.0},{"TIME":68,"IWRES":1.6},{"TIME":68,"IWRES":1.2},{"TIME":68,"IWRES":0.8},{"TIME":68,"IWRES":0.4},{"TIME":68,"IWRES":0.0},{"TIME":68,"IWRES":-0.4},{"TIME":68,"IWRES":-0.8},{"TIME":68,"IWRES":-1.2},{"TIME":68,"IWRES":-1.6},
{"TIME":160,"IWRES":2.05},{"TIME":160,"IWRES":1.7},{"TIME":160,"IWRES":1.35},{"TIME":160,"IWRES":1.0},{"TIME":160,"IWRES":0.65},{"TIME":160,"IWRES":0.3},{"TIME":160,"IWRES":-0.05},{"TIME":160,"IWRES":-0.4},{"TIME":160,"IWRES":-0.75},{"TIME":160,"IWRES":-1.1},{"TIME":160,"IWRES":-1.45},{"TIME":160,"IWRES":-1.8},{"TIME":160,"IWRES":-2.1},{"TIME":160,"IWRES":-2.4},
{"TIME":166,"IWRES":1.85},{"TIME":166,"IWRES":1.5},{"TIME":166,"IWRES":1.15},{"TIME":166,"IWRES":0.8},{"TIME":166,"IWRES":0.45},{"TIME":166,"IWRES":0.1},{"TIME":166,"IWRES":-0.25},{"TIME":166,"IWRES":-0.6},{"TIME":166,"IWRES":-0.95},{"TIME":166,"IWRES":-1.3},{"TIME":166,"IWRES":-1.65},{"TIME":166,"IWRES":-2.0},
{"TIME":330,"IWRES":1.15},{"TIME":330,"IWRES":0.8},{"TIME":330,"IWRES":0.45},{"TIME":330,"IWRES":0.1},{"TIME":330,"IWRES":-0.25},{"TIME":330,"IWRES":-0.6},{"TIME":330,"IWRES":-0.95},{"TIME":330,"IWRES":-1.3},{"TIME":330,"IWRES":-1.65},{"TIME":330,"IWRES":-2.0},{"TIME":330,"IWRES":-2.7},{"TIME":330,"IWRES":-3.55},
{"TIME":336,"IWRES":0.95},{"TIME":336,"IWRES":0.6},{"TIME":336,"IWRES":0.25},{"TIME":336,"IWRES":-0.1},{"TIME":336,"IWRES":-0.45},{"TIME":336,"IWRES":-0.8},{"TIME":336,"IWRES":-1.15},{"TIME":336,"IWRES":-1.5},
{"TIME":500,"IWRES":1.7},{"TIME":500,"IWRES":1.35},{"TIME":500,"IWRES":1.0},{"TIME":500,"IWRES":0.65},{"TIME":500,"IWRES":0.3},{"TIME":500,"IWRES":-0.05},{"TIME":500,"IWRES":-0.4},{"TIME":500,"IWRES":-0.75},{"TIME":500,"IWRES":-1.2},{"TIME":500,"IWRES":-2.7},
{"TIME":505,"IWRES":1.5},{"TIME":505,"IWRES":1.15},{"TIME":505,"IWRES":0.8},{"TIME":505,"IWRES":0.45},{"TIME":505,"IWRES":0.1},{"TIME":505,"IWRES":-0.25},{"TIME":505,"IWRES":-0.6},
{"TIME":667,"IWRES":2.25},
{"TIME":1000,"IWRES":1.85},{"TIME":1000,"IWRES":1.5},{"TIME":1000,"IWRES":1.15},{"TIME":1000,"IWRES":0.8},{"TIME":1000,"IWRES":0.45},{"TIME":1000,"IWRES":0.1},{"TIME":1000,"IWRES":-0.25},{"TIME":1000,"IWRES":-0.6},{"TIME":1000,"IWRES":-2.2},{"TIME":1000,"IWRES":-4.9},
{"TIME":1006,"IWRES":1.65},{"TIME":1006,"IWRES":1.3},{"TIME":1006,"IWRES":0.95},{"TIME":1006,"IWRES":0.6},{"TIME":1006,"IWRES":0.25},{"TIME":1006,"IWRES":-0.1},{"TIME":1006,"IWRES":-0.45},
{"TIME":1243,"IWRES":1.6},{"TIME":1243,"IWRES":-3.4},
{"TIME":1500,"IWRES":1.8},{"TIME":1500,"IWRES":1.45},{"TIME":1500,"IWRES":1.1},{"TIME":1500,"IWRES":0.75},{"TIME":1500,"IWRES":0.4},{"TIME":1500,"IWRES":0.05},{"TIME":1500,"IWRES":-0.3},{"TIME":1500,"IWRES":-0.65},{"TIME":1500,"IWRES":-1.0},{"TIME":1500,"IWRES":-1.35},{"TIME":1500,"IWRES":-1.7},{"TIME":1500,"IWRES":-2.05},{"TIME":1500,"IWRES":-2.4},{"TIME":1500,"IWRES":-2.65},
{"TIME":1508,"IWRES":1.6},{"TIME":1508,"IWRES":1.25},{"TIME":1508,"IWRES":0.9},{"TIME":1508,"IWRES":0.55},{"TIME":1508,"IWRES":0.2},{"TIME":1508,"IWRES":-0.15},{"TIME":1508,"IWRES":-0.5},{"TIME":1508,"IWRES":-0.85},{"TIME":1508,"IWRES":-1.2},{"TIME":1508,"IWRES":-1.55},{"TIME":1508,"IWRES":-1.9},
{"TIME":1530,"IWRES":1.0},{"TIME":1530,"IWRES":0.5},{"TIME":1530,"IWRES":0.0},{"TIME":1530,"IWRES":-0.5},{"TIME":1530,"IWRES":-1.0},
{"TIME":1575,"IWRES":2.15},{"TIME":1575,"IWRES":1.8},{"TIME":1575,"IWRES":1.45},{"TIME":1575,"IWRES":1.1},{"TIME":1575,"IWRES":0.75},{"TIME":1575,"IWRES":0.4},{"TIME":1575,"IWRES":0.05},{"TIME":1575,"IWRES":-0.3},{"TIME":1575,"IWRES":-0.65},{"TIME":1575,"IWRES":-1.05},
{"TIME":1672,"IWRES":2.85},{"TIME":1672,"IWRES":1.75},{"TIME":1672,"IWRES":1.4},{"TIME":1672,"IWRES":1.05},{"TIME":1672,"IWRES":0.7},{"TIME":1672,"IWRES":0.35},{"TIME":1672,"IWRES":0.0},{"TIME":1672,"IWRES":-0.35},{"TIME":1672,"IWRES":-0.7},{"TIME":1672,"IWRES":-1.05},{"TIME":1672,"IWRES":-1.4},
{"TIME":1842,"IWRES":2.0},{"TIME":1842,"IWRES":0.8},{"TIME":1842,"IWRES":0.3},{"TIME":1842,"IWRES":0.0},{"TIME":1842,"IWRES":-0.3},{"TIME":1842,"IWRES":-0.9},
{"TIME":2010,"IWRES":1.3},{"TIME":2010,"IWRES":0.95},{"TIME":2010,"IWRES":0.6},{"TIME":2010,"IWRES":0.2},{"TIME":2010,"IWRES":-0.15},{"TIME":2010,"IWRES":-0.7}
],
"tml": [
{"TIME":0,"IWRES":0.15},{"TIME":500,"IWRES":0.15},{"TIME":1000,"IWRES":0.12},{"TIME":1400,"IWRES":0.05},{"TIME":1500,"IWRES":0.0},{"TIME":1700,"IWRES":-0.07},{"TIME":2010,"IWRES":-0.1}
]
},
"concat": [
{
 "width": 322, "height": 185,
 "title": {"text": "CWRES vs. PRED"},
 "layer": [
  {"data": {"name": "cw"}, "mark": {"type": "point", "shape": "circle", "filled": false, "color": "black", "size": 50, "strokeWidth": 1.2, "opacity": 1},
   "encoding": {
    "x": {"field": "PRED", "type": "quantitative", "scale": {"domain": [-72, 1867], "nice": false, "zero": false}, "axis": {"values": [0, 500, 1000, 1500], "title": "Population Prediction"}},
    "y": {"field": "CWRES", "type": "quantitative", "scale": {"domain": [-5.4, 5.42], "nice": false, "zero": false}, "axis": {"values": [-4, -2, 0, 2, 4], "title": "Population Weighted Residuals"}}}},
  {"data": {"values": [{"CWRES": 0}]}, "mark": {"type": "rule", "color": "black", "strokeWidth": 1.4}, "encoding": {"y": {"field": "CWRES", "type": "quantitative"}}},
  {"data": {"name": "cwl"}, "mark": {"type": "line", "color": "black", "strokeWidth": 3.5, "strokeDash": [26, 6]},
   "encoding": {"x": {"field": "PRED", "type": "quantitative"}, "y": {"field": "CWRES", "type": "quantitative"}}}
 ]
},
{
 "width": 322, "height": 185,
 "title": {"text": "DV vs. IPRED"},
 "layer": [
  {"data": {"name": "dv"}, "mark": {"type": "point", "shape": "circle", "filled": false, "color": "black", "size": 50, "strokeWidth": 1.2, "opacity": 1},
   "encoding": {
    "x": {"field": "IPRED", "type": "quantitative", "scale": {"type": "log", "domain": [0.0147, 3414], "nice": false}, "axis": {"values": [0.1, 1, 10, 100, 1000], "labelExpr": "format(datum.value, '.1f')", "title": "Individual Prediction"}},
    "y": {"field": "DV", "type": "quantitative", "scale": {"type": "log", "domain": [0.0155, 3436], "nice": false}, "axis": {"values": [0.1, 1, 10, 100, 1000], "labelExpr": "datum.value == 10 || datum.value == 1000 ? '' : format(datum.value, '.1f')", "title": "Observed"}}}},
  {"data": {"name": "dvl"}, "mark": {"type": "line", "color": "black", "strokeWidth": 1.4, "clip": true},
   "encoding": {"x": {"field": "IPRED", "type": "quantitative"}, "y": {"field": "DV", "type": "quantitative"}}}
 ]
},
{
 "width": 322, "height": 187,
 "title": {"text": "IWRES vs. IPRED"},
 "layer": [
  {"data": {"name": "iw"}, "mark": {"type": "point", "shape": "circle", "filled": false, "color": "black", "size": 50, "strokeWidth": 1.2, "opacity": 1},
   "encoding": {
    "x": {"field": "IPRED", "type": "quantitative", "scale": {"domain": [-75, 2103], "nice": false, "zero": false}, "axis": {"values": [0, 500, 1000, 1500, 2000], "title": "Individual Prediction"}},
    "y": {"field": "IWRES", "type": "quantitative", "scale": {"domain": [-5.4, 5.45], "nice": false, "zero": false}, "axis": {"values": [-4, -2, 0, 2, 4], "title": "Individual Weighted Residuals"}}}},
  {"data": {"values": [{"IWRES": 0}]}, "mark": {"type": "rule", "color": "black", "strokeWidth": 1.4}, "encoding": {"y": {"field": "IWRES", "type": "quantitative"}}},
  {"data": {"name": "iwl"}, "mark": {"type": "line", "color": "black", "strokeWidth": 3.5, "strokeDash": [26, 6]},
   "encoding": {"x": {"field": "IPRED", "type": "quantitative"}, "y": {"field": "IWRES", "type": "quantitative"}}}
 ]
},
{
 "width": 322, "height": 187,
 "title": {"text": "IWRES vs. TIME"},
 "layer": [
  {"data": {"name": "tm"}, "mark": {"type": "point", "shape": "circle", "filled": false, "color": "black", "size": 50, "strokeWidth": 1.2, "opacity": 1},
   "encoding": {
    "x": {"field": "TIME", "type": "quantitative", "scale": {"domain": [-83, 2102], "nice": false, "zero": false}, "axis": {"values": [0, 500, 1000, 1500, 2000], "title": "Time"}},
    "y": {"field": "IWRES", "type": "quantitative", "scale": {"domain": [-10.8, 10.78], "nice": false, "zero": false}, "axis": {"values": [-10, -5, 0, 5, 10], "title": "Individual Weighted Residuals"}}}},
  {"data": {"values": [{"IWRES": 0}]}, "mark": {"type": "rule", "color": "black", "strokeWidth": 1.4}, "encoding": {"y": {"field": "IWRES", "type": "quantitative"}}},
  {"data": {"name": "tml"}, "mark": {"type": "line", "color": "black", "strokeWidth": 3.5, "strokeDash": [26, 6]},
   "encoding": {"x": {"field": "TIME", "type": "quantitative"}, "y": {"field": "IWRES", "type": "quantitative"}}}
 ]
}
]
}
